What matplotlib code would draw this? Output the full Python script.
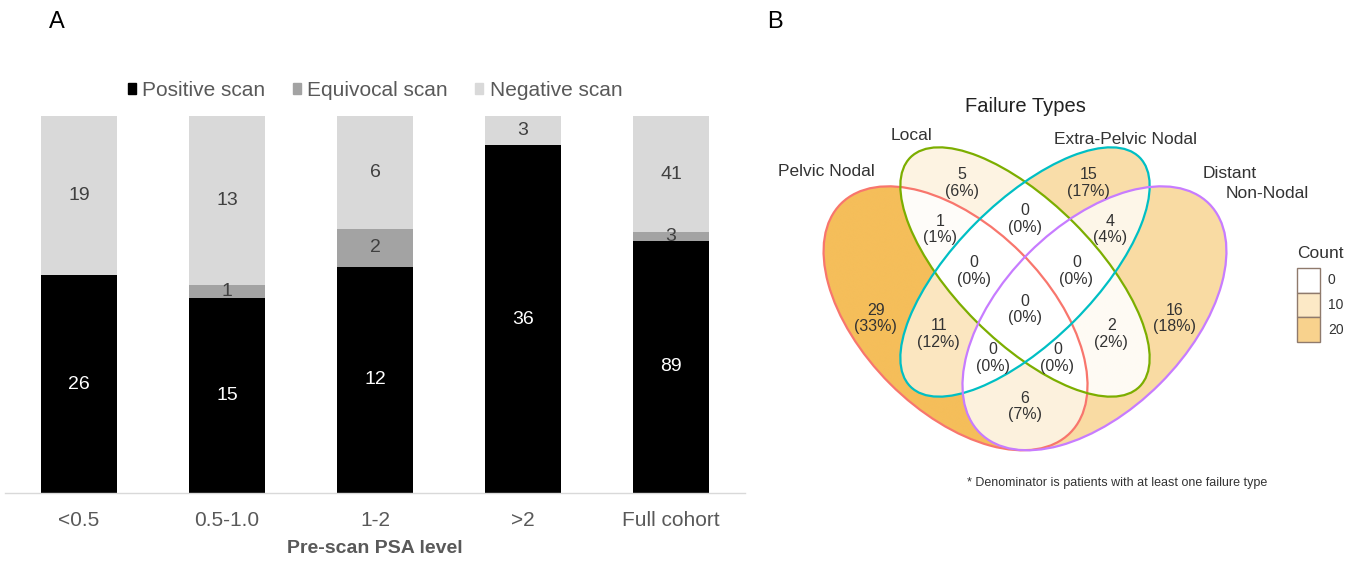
import numpy as np
import matplotlib
matplotlib.use('Agg')
import matplotlib.pyplot as plt
from matplotlib.patches import Ellipse, Rectangle, Patch
from matplotlib.colors import LinearSegmentedColormap, Normalize
from matplotlib.transforms import Affine2D

plt.rcParams['font.family'] = ['Liberation Sans', 'DejaVu Sans']

W, H, DPI = 1358, 561, 100

# ---------------- Panel A data ----------------
psa_levels = ['<0.5', '0.5-1.0', '1-2', '>2', 'Full cohort']
positive = [26, 15, 12, 36, 89]
equivocal = [0, 1, 2, 0, 3]
negative = [19, 13, 6, 3, 41]
scan_labels = ['Positive scan', 'Equivocal scan', 'Negative scan']
scan_colors = ['#000000', '#A3A3A3', '#D9D9D9']
scan_text_colors = ['#FFFFFF', '#404040', '#404040']

# ---------------- Panel B data ----------------
set_names = ['Pelvic Nodal', 'Local', 'Extra-Pelvic Nodal', 'Distant Non-Nodal']
set_codes = ['P', 'L', 'E', 'D']
region_keys = ['P', 'L', 'E', 'D', 'PL', 'PE', 'PD', 'LE', 'LD', 'ED',
               'PLE', 'PLD', 'PED', 'LED', 'PLED']
region_counts = [29, 5, 15, 16, 1, 11, 6, 0, 2, 4, 0, 0, 0, 0, 0]
legend_ticks = [0, 10, 20]

# ---------------- layout / style ----------------
set_colors = ['#F8766D', '#7CAE00', '#00BFC4', '#C77CFF']
ell_x = [0.35, 0.50, 0.50, 0.65]
ell_y = [0.47, 0.57, 0.57, 0.47]
ell_a = [0.35, 0.35, 0.35, 0.35]
ell_b = [0.20, 0.15, 0.15, 0.20]
ell_ang = [-45, -45, 45, 45]

fig = plt.figure(figsize=(W / DPI, H / DPI), dpi=DPI)
pix = Affine2D().scale(1.0 / W, -1.0 / H).translate(0, 1) + fig.transFigure

# ================= Panel A =================
axA = fig.add_axes([5 / W, 1 - 493 / H, 740 / W, 377 / H])
xpos = np.arange(len(psa_levels))
pos = np.array(positive, float)
eqv = np.array(equivocal, float)
neg = np.array(negative, float)
tot = pos + eqv + neg
series = [pos, eqv, neg]
bottom = np.zeros(len(xpos))
for vals, col, tcol, lab in zip(series, scan_colors, scan_text_colors, scan_labels):
    frac = vals / tot
    axA.bar(xpos, frac, 0.52, bottom=bottom, color=col, label=lab)
    for xi, f, bt, v in zip(xpos, frac, bottom, vals):
        if v > 0:
            axA.text(xi, bt + f / 2, f"{int(v)}", ha='center', va='center',
                     color=tcol, fontsize=14)
    bottom = bottom + frac
axA.set_xlim(-0.5, len(xpos) - 0.5)
axA.set_ylim(0, 1)
for s in ['top', 'right', 'left']:
    axA.spines[s].set_visible(False)
axA.spines['bottom'].set_color('#D9D9D9')
axA.spines['bottom'].set_linewidth(1.0)
axA.set_yticks([])
axA.set_xticks(xpos)
axA.set_xticklabels(psa_levels, fontsize=15, color='#595959')
axA.tick_params(axis='x', length=0, pad=13)
axA.set_xlabel('Pre-scan PSA level', fontsize=14, color='#595959',
               fontweight='bold', labelpad=7)
axA.legend(handles=[Patch(color=c) for c in scan_colors], labels=scan_labels,
           loc='lower center', bbox_to_anchor=(0.5, 1.02), ncol=3,
           frameon=False, fontsize=15, handlelength=0.4, handleheight=0.4,
           handletextpad=0.3, columnspacing=1.3, labelcolor='#595959',
           borderaxespad=0)

fig.text(57, 22, 'A', transform=pix, fontsize=17, ha='center', va='center')
fig.text(775, 22, 'B', transform=pix, fontsize=17, ha='center', va='center')

# ================= Panel B =================
scale = 463.0
cxp, cyp = 1025.0, 272.0
left_px, right_px, top_px, bot_px = 780, 1270, 130, 470
x0 = 0.5 + (left_px - cxp) / scale
x1 = 0.5 + (right_px - cxp) / scale
y1 = 0.57 - (top_px - cyp) / scale
y0 = 0.57 - (bot_px - cyp) / scale
axB = fig.add_axes([left_px / W, 1 - bot_px / H, (right_px - left_px) / W,
                    (bot_px - top_px) / H])
axB.set_xlim(x0, x1)
axB.set_ylim(y0, y1)
axB.axis('off')

nx, ny = 1600, 1100
gx = np.linspace(x0, x1, nx)
gy = np.linspace(y0, y1, ny)
GX, GY = np.meshgrid(gx, gy)
inside = {}
for code, cx, cy, a, b, ang in zip(set_codes, ell_x, ell_y, ell_a, ell_b, ell_ang):
    t = np.deg2rad(ang)
    dx, dy = GX - cx, GY - cy
    u = dx * np.cos(t) + dy * np.sin(t)
    v = -dx * np.sin(t) + dy * np.cos(t)
    inside[code] = (u / a) ** 2 + (v / b) ** 2 <= 1.0


def point_on_surface(mask):
    rows = np.where(mask.any(axis=1))[0]
    ymid = 0.5 * (gy[rows.min()] + gy[rows.max()])
    r = int(np.argmin(np.abs(gy - ymid)))
    while not mask[r].any():
        r += 1
    d = np.diff(np.concatenate([[0], mask[r].astype(int), [0]]))
    st = np.where(d == 1)[0]
    en = np.where(d == -1)[0]
    k = int(np.argmax(en - st))
    return 0.5 * (gx[st[k]] + gx[en[k] - 1]), ymid


cmap = LinearSegmentedColormap.from_list('venn', ['#FFFFFF', '#F5BE5A'])
cmap.set_bad((1, 1, 1, 0))
norm = Normalize(0, max(region_counts))
grid = np.full(GX.shape, np.nan)
total = sum(region_counts)
label_pts = []
for key, cnt in zip(region_keys, region_counts):
    m = np.ones(GX.shape, bool)
    for code in set_codes:
        m &= inside[code] if code in key else ~inside[code]
    grid[m] = cnt
    label_pts.append(point_on_surface(m))
axB.imshow(grid, origin='lower', extent=(x0, x1, y0, y1), cmap=cmap, norm=norm,
           interpolation='antialiased', aspect='auto', zorder=1)

for cx, cy, a, b, ang, col in zip(ell_x, ell_y, ell_a, ell_b, ell_ang, set_colors):
    axB.add_patch(Ellipse((cx, cy), 2 * a, 2 * b, angle=ang, fill=False,
                          edgecolor=col, lw=1.6, zorder=3))

for (mx, my), cnt in zip(label_pts, region_counts):
    pct = int(cnt / total * 100 + 0.5)
    axB.text(mx, my, f"{cnt}\n({pct}%)", ha='center', va='center', fontsize=11.5,
             color='#333333', linespacing=1.15, zorder=4)

fig.text(1025, 107, 'Failure Types', transform=pix, fontsize=14.5,
         ha='center', va='center', color='#222222')
fig.text(826, 172, set_names[0], transform=pix, fontsize=12.5, ha='center',
         va='center', color='#333333')
fig.text(912, 135, set_names[1], transform=pix, fontsize=12.5, ha='center',
         va='center', color='#333333')
fig.text(1125, 140, set_names[2], transform=pix, fontsize=12.5, ha='center',
         va='center', color='#333333')
d1, d2 = set_names[3].split(' ')
fig.text(1230, 173, d1, transform=pix, fontsize=12.5, ha='center',
         va='center', color='#333333')
fig.text(1267, 193, d2, transform=pix, fontsize=12.5, ha='center',
         va='center', color='#333333')

# Count legend
fig.text(1297, 253, 'Count', transform=pix, fontsize=12.5, ha='left',
         va='center', color='#333333')
key_top, key_h = 268, 24.7
for i, tv in enumerate(legend_ticks):
    r = Rectangle((1297, key_top + i * key_h), 23, key_h, transform=pix,
                  facecolor=cmap(norm(tv)), edgecolor='#8f7a6c', lw=1.0)
    fig.add_artist(r)
    fig.text(1328, key_top + i * key_h + key_h / 2, f"{tv}", transform=pix,
             fontsize=10, ha='left', va='center', color='#333333')

fig.text(967, 483, '* Denominator is patients with at least one failure type',
         transform=pix, fontsize=9, ha='left', va='center', color='#333333')

fig.savefig('out.png', dpi=DPI)
